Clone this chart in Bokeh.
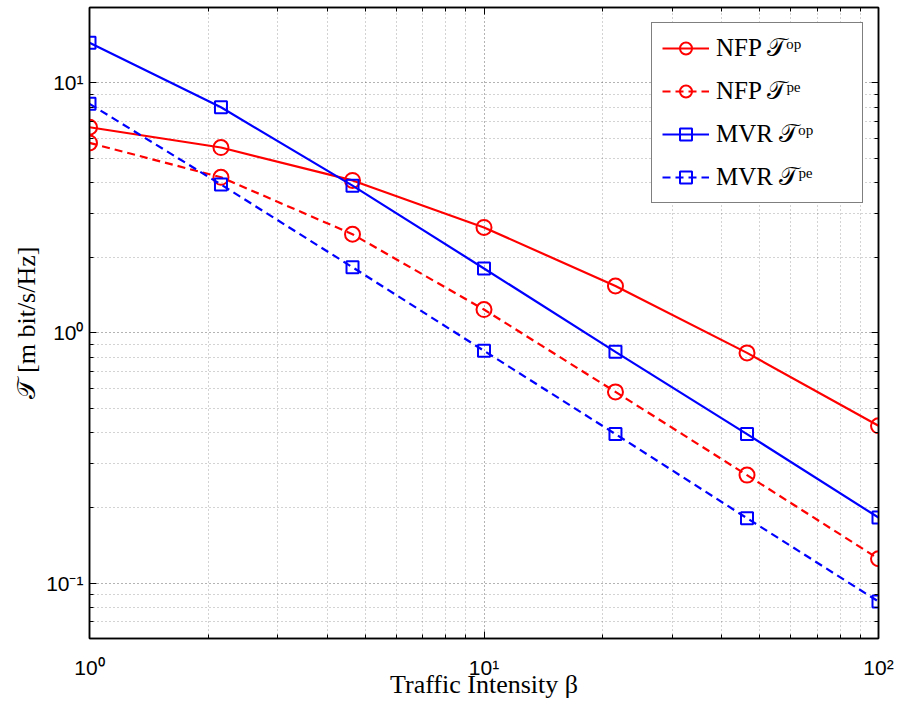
from bokeh.plotting import figure
from bokeh.models import FixedTicker, LogAxis, Legend, LegendItem, Range1d
from bokeh.embed import file_html
from bokeh.resources import INLINE

# ---- data ----
beta = [1.0, 2.154, 4.642, 10.0, 21.54, 46.42, 100.0]
nfp_op = [6.64, 5.51, 4.07, 2.64, 1.54, 0.832, 0.425]
nfp_pe = [5.75, 4.19, 2.48, 1.24, 0.581, 0.270, 0.125]
mvr_op = [14.47, 7.98, 3.88, 1.81, 0.840, 0.394, 0.1826]
mvr_pe = [8.24, 3.92, 1.83, 0.848, 0.394, 0.1816, 0.0843]

x_major = [1, 10, 100]
x_minor = [2, 3, 4, 5, 6, 7, 8, 9, 20, 30, 40, 50, 60, 70, 80, 90]
y_major = [0.1, 1, 10]
y_minor = [0.06, 0.07, 0.08, 0.09, 0.2, 0.3, 0.4, 0.5, 0.6, 0.7, 0.8, 0.9,
           2, 3, 4, 5, 6, 7, 8, 9, 20]
x_labels = {1: "10⁰", 10: "10¹", 100: "10²"}
y_labels = {0.1: "10⁻¹", 1: "10⁰", 10: "10¹"}

series = [
    ("NFP 𝒯ᵒᵖ", nfp_op, "#ff0000", "solid", "circle"),
    ("NFP 𝒯ᵖᵉ", nfp_pe, "#ff0000", "8 5", "circle"),
    ("MVR 𝒯ᵒᵖ", mvr_op, "#0000ff", "solid", "square"),
    ("MVR 𝒯ᵖᵉ", mvr_pe, "#0000ff", "8 5", "square"),
]

p = figure(width=896, height=705, x_axis_type="log", y_axis_type="log",
           x_range=Range1d(1, 100), y_range=Range1d(0.06, 20),
           output_backend="svg", toolbar_location=None,
           min_border_left=89, min_border_right=18, min_border_top=7,
           min_border_bottom=67)

p.outline_line_color = "black"
p.outline_line_width = 1.5
p.background_fill_color = "white"
p.border_fill_color = "white"

xt = FixedTicker(ticks=x_major, minor_ticks=x_minor)
yt = FixedTicker(ticks=y_major, minor_ticks=y_minor)
p.xaxis.ticker = xt
p.yaxis.ticker = yt
p.xaxis.major_label_overrides = x_labels
p.yaxis.major_label_overrides = y_labels

for ax in (p.xaxis[0], p.yaxis[0]):
    ax.major_label_text_font = "Liberation Sans"
    ax.major_label_text_font_size = "21px"
    ax.major_label_text_color = "black"
    ax.axis_label_text_font = "Liberation Serif"
    ax.axis_label_text_font_size = "26px"
    ax.axis_label_text_font_style = "normal"
    ax.axis_label_text_color = "black"
    ax.major_tick_in = 7
    ax.major_tick_out = 0
    ax.minor_tick_in = 4
    ax.minor_tick_out = 0
    ax.axis_line_color = "black"
    ax.axis_line_width = 1.5
    ax.major_tick_line_color = "black"
    ax.minor_tick_line_color = "black"

p.xaxis.major_label_standoff = 17
p.yaxis.major_label_standoff = 6
p.xaxis.axis_label = "Traffic Intensity β"
p.yaxis.axis_label = "𝒯 [m bit/s/Hz]"
p.xaxis.axis_label_standoff = -12
p.yaxis.axis_label_standoff = 2

# mirrored axes (ticks only)
for loc, tick in (("above", xt), ("right", yt)):
    ax = LogAxis(ticker=tick)
    ax.major_label_text_font_size = "0px"
    ax.major_label_standoff = 0
    ax.major_tick_in = 7
    ax.major_tick_out = 0
    ax.minor_tick_in = 4
    ax.minor_tick_out = 0
    ax.axis_line_color = "black"
    ax.axis_line_width = 1.5
    ax.major_label_overrides = {t: "" for t in tick.ticks}
    p.add_layout(ax, loc)

for g in (p.xgrid[0], p.ygrid[0]):
    g.grid_line_color = "black"
    g.grid_line_alpha = 0.6
    g.grid_line_dash = "1 3"
    g.minor_grid_line_color = "black"
    g.minor_grid_line_alpha = 0.35
    g.minor_grid_line_dash = "1 3"
p.xgrid.ticker = xt
p.ygrid.ticker = yt

items = []
for name, ys, col, dash, mk in series:
    r1 = p.line(beta, ys, line_color=col, line_width=2.2, line_dash=dash)
    r2 = p.scatter(beta, ys, marker=mk, size=15 if mk == "circle" else 12,
                   line_color=col, line_width=2, fill_color=None)
    items.append(LegendItem(label=name, renderers=[r1, r2]))

leg = Legend(items=items, location="top_right")
leg.margin = 15
leg.padding = 10
leg.spacing = 13
leg.glyph_width = 47
leg.glyph_height = 30
leg.label_height = 30
leg.label_width = 136
leg.label_standoff = 7
leg.label_text_font = "Liberation Serif"
leg.label_text_font_size = "25px"
leg.label_text_color = "black"
leg.border_line_color = "black"
leg.border_line_width = 1.5
leg.background_fill_alpha = 1
p.add_layout(leg, "center")

open("out.html", "w").write(file_html(p, INLINE))
